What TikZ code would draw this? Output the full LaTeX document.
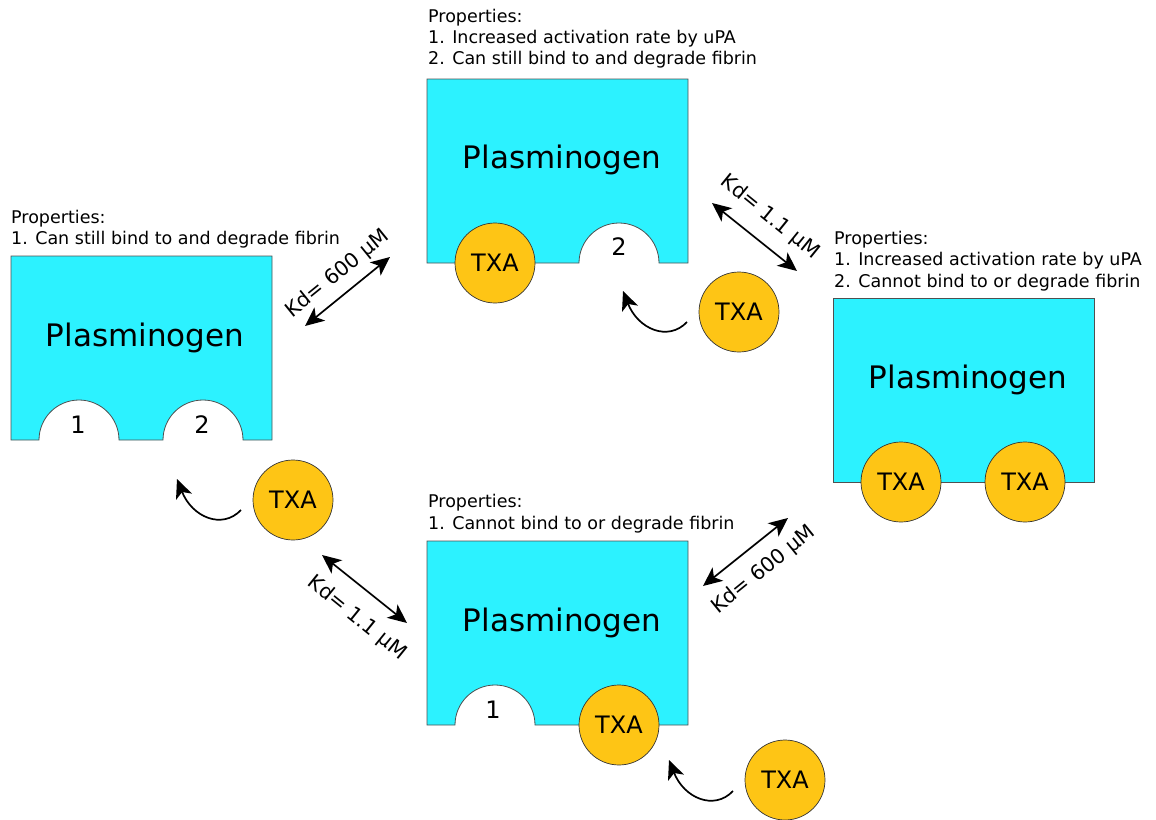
\documentclass[tikz,border=0pt]{standalone}
\usepackage{fontspec}
\setmainfont{DejaVu Sans}
\usetikzlibrary{arrows.meta}
\definecolor{plcyan}{RGB}{44,242,255}
\definecolor{txaor}{RGB}{254,197,21}
\definecolor{edgegray}{RGB}{80,80,80}
\begin{document}
\begin{tikzpicture}[x=1pt,y=-1pt,
 boxst/.style={fill=plcyan,draw=edgegray,line width=0.8pt},
 txa/.style={circle,fill=txaor,draw=black!80,line width=0.7pt,minimum size=80pt,inner sep=0pt,font=\fontsize{24}{28}\selectfont},
 plas/.style={font=\fontsize{31}{36}\selectfont,inner sep=0pt},
 prop/.style={anchor=base west,inner sep=0pt,font=\fontsize{17.5}{21}\selectfont},
 kd/.style={font=\fontsize{20.5}{24}\selectfont,inner sep=0pt},
 num/.style={font=\fontsize{24}{28}\selectfont,inner sep=0pt},
 dbl/.style={line width=1.7pt,{Stealth[length=19pt,width=17pt,inset=5pt]}-{Stealth[length=19pt,width=17pt,inset=5pt]}},
 bendarrow/.style={line width=1.7pt,-{Stealth[length=19pt,width=17pt,inset=5pt]}}]
\useasboundingbox (0,0) rectangle (1156,819);

% ---- boxes ----
\draw[boxst] (11,256) -- (272,256) -- (272,440) -- (243,440) arc[start angle=0,end angle=180,radius=40pt] -- (119,440) arc[start angle=0,end angle=180,radius=40pt] -- (11,440) -- cycle;
\draw[boxst] (427,79) -- (688,79) -- (688,263) -- (659,263) arc[start angle=0,end angle=180,radius=40pt] -- (427,263) -- cycle;
\draw[boxst] (833,298) rectangle (1094,482);
\draw[boxst] (427,541) -- (688,541) -- (688,725) -- (535,725) arc[start angle=0,end angle=180,radius=40pt] -- (427,725) -- cycle;

% ---- Plasminogen labels ----
\node[plas] (plL) at (145,338) {Plasminogen};
\node[plas] (plT) at (562,160) {Plasminogen};
\node[plas] (plR) at (968,380) {Plasminogen};
\node[plas] (plB) at (562,623) {Plasminogen};

% ---- site numbers ----
\node[num] (nL1) at (78,425) {1};
\node[num] (nL2) at (202,425) {2};
\node[num] (nT2) at (619,247) {2};
\node[num] (nB1) at (493,710) {1};

% ---- bound TXA ----
\node[txa] (tT) at (495,263) {TXA};
\node[txa] (tR1) at (901,482) {TXA};
\node[txa] (tR2) at (1025,482) {TXA};
\node[txa] (tB) at (619,725) {TXA};

% ---- free TXA ----
\node[txa] (f1) at (293,500) {TXA};
\node[txa] (f2) at (739,312) {TXA};
\node[txa] (f3) at (785,780) {TXA};

% ---- properties ----
\node[prop] (pL1) at (11,223) {Properties:};
\node[prop] (pL2) at (11,244) {1. Can still bind to and degrade fibrin};
\node[prop] (pT1) at (428,22) {Properties:};
\node[prop] (pT2) at (428,43) {1. Increased activation rate by uPA};
\node[prop] (pT3) at (428,64) {2. Can still bind to and degrade fibrin};
\node[prop] (pR1) at (834,244) {Properties:};
\node[prop] (pR2) at (834,265) {1. Increased activation rate by uPA};
\node[prop] (pR3) at (834,287) {2. Cannot bind to or degrade fibrin};
\node[prop] (pB1) at (428,507) {Properties:};
\node[prop] (pB2) at (428,529) {1. Cannot bind to or degrade fibrin};

% ---- equilibrium arrows ----
\coordinate (a1) at (305,326); \coordinate (a2) at (390,257);
\coordinate (b1) at (712,203); \coordinate (b2) at (797,271);
\coordinate (c1) at (322,555); \coordinate (c2) at (407,623);
\coordinate (d1) at (703,586); \coordinate (d2) at (788,518);
\draw[dbl] (a1) -- (a2);
\draw[dbl] (b1) -- (b2);
\draw[dbl] (c1) -- (c2);
\draw[dbl] (d1) -- (d2);
\node[kd,rotate=39] (ka) at (338,274) {Kd= 600 µM};
\node[kd,rotate=-39] (kb) at (770,217) {Kd= 1.1 µM};
\node[kd,rotate=-39] (kc) at (357,618) {Kd= 1.1 µM};
\node[kd,rotate=39] (kdd) at (764,570) {Kd= 600 µM};

% ---- binding arrows ----
\coordinate (s1) at (241,510); \coordinate (e1) at (177,479);
\coordinate (s2) at (687,322); \coordinate (e2) at (623,291);
\coordinate (s3) at (733,791); \coordinate (e3) at (669,760);
\draw[bendarrow] (s1) .. controls (222,530) and (192,517) .. (e1);
\draw[bendarrow] (s2) .. controls (668,342) and (638,329) .. (e2);
\draw[bendarrow] (s3) .. controls (714,811) and (684,798) .. (e3);
\end{tikzpicture}
\end{document}
